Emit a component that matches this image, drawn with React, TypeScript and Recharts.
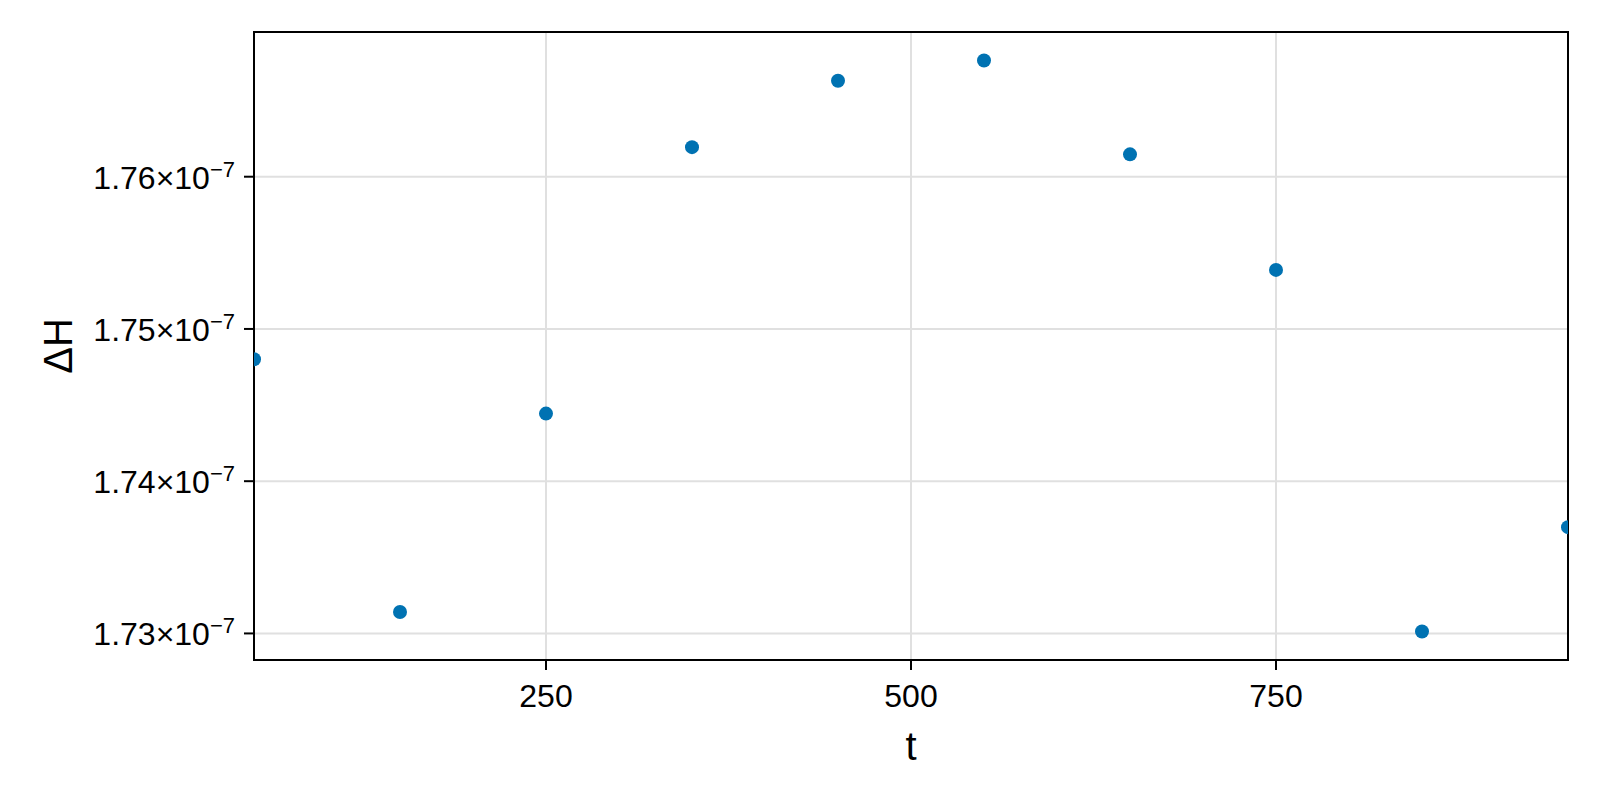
import React from "react";
import {
  ScatterChart,
  Scatter,
  XAxis,
  YAxis,
  CartesianGrid,
  ReferenceArea,
} from "recharts";

// sample times
const times = [50, 150, 250, 350, 450, 550, 650, 750, 850, 950];
// energy drift
const deltaH = [
  1.74801e-7, 1.73141e-7, 1.74444e-7, 1.76194e-7, 1.7663e-7, 1.76763e-7,
  1.76147e-7, 1.75388e-7, 1.73013e-7, 1.73698e-7,
];
const xTicks = [250, 500, 750];
const yTicks = [1.73e-7, 1.74e-7, 1.75e-7, 1.76e-7];

const data = times.map((t, i) => ({ t, dh: deltaH[i] }));

const lo = Math.min(...deltaH);
const hi = Math.max(...deltaH);
const pad = (hi - lo) * 0.05;
const yDomain = [lo - pad, hi + pad];

const FONT = "'Liberation Sans', Arial, Helvetica, sans-serif";

const YTick = ({ x, y, payload }: any) => {
  const mant = (payload.value * 1e7).toFixed(2);
  return (
    <text
      x={x}
      y={y + 12}
      textAnchor="end"
      fontFamily={FONT}
      fontSize={32}
      fill="#000"
    >
      {mant}×10
      <tspan fontSize={22} dy={-12}>
        −7
      </tspan>
    </text>
  );
};

const XTick = ({ x, y, payload }: any) => (
  <text
    x={x}
    y={y + 23}
    textAnchor="middle"
    fontFamily={FONT}
    fontSize={32}
    fill="#000"
  >
    {payload.value}
  </text>
);

const Dot = ({ cx, cy }: any) => <circle cx={cx} cy={cy} r={7} fill="#0072B2" />;

const XLabel = ({ viewBox }: any) => (
  <text
    x={viewBox.x + viewBox.width / 2}
    y={viewBox.y + 100}
    textAnchor="middle"
    fontFamily={FONT}
    fontSize={40}
    fill="#000"
  >
    t
  </text>
);

const YLabel = ({ viewBox }: any) => {
  const cy = viewBox.y + viewBox.height / 2;
  return (
    <text
      x={72}
      y={cy}
      transform={`rotate(-90, 72, ${cy})`}
      textAnchor="middle"
      fontFamily={FONT}
      fontSize={40}
      fill="#000"
    >
      ΔH
    </text>
  );
};

export default function App() {
  return (
    <div style={{ position: "absolute", left: 0, top: 0, background: "#fff" }}>
      <ScatterChart
        width={1600}
        height={800}
        margin={{ top: 32, right: 32, bottom: 0, left: 0 }}
      >
        <CartesianGrid stroke="#e0e0e0" strokeWidth={2} />
        <XAxis
          type="number"
          dataKey="t"
          domain={[50, 950]}
          ticks={xTicks}
          allowDataOverflow
          height={140}
          axisLine={false}
          tickSize={10}
          tickMargin={14}
          tickLine={{ stroke: "#000", strokeWidth: 2 }}
          tick={<XTick />}
          label={<XLabel />}
        />
        <YAxis
          type="number"
          dataKey="dh"
          domain={yDomain}
          ticks={yTicks}
          allowDataOverflow
          width={254}
          axisLine={false}
          tickSize={10}
          tickMargin={9}
          tickLine={{ stroke: "#000", strokeWidth: 2 }}
          tick={<YTick />}
          label={<YLabel />}
        />
        <Scatter data={data} shape={<Dot />} isAnimationActive={false} />
        <ReferenceArea
          x1={50}
          x2={950}
          y1={yDomain[0]}
          y2={yDomain[1]}
          fill="none"
          fillOpacity={0}
          stroke="#000"
          strokeWidth={2}
          ifOverflow="visible"
        />
      </ScatterChart>
    </div>
  );
}
